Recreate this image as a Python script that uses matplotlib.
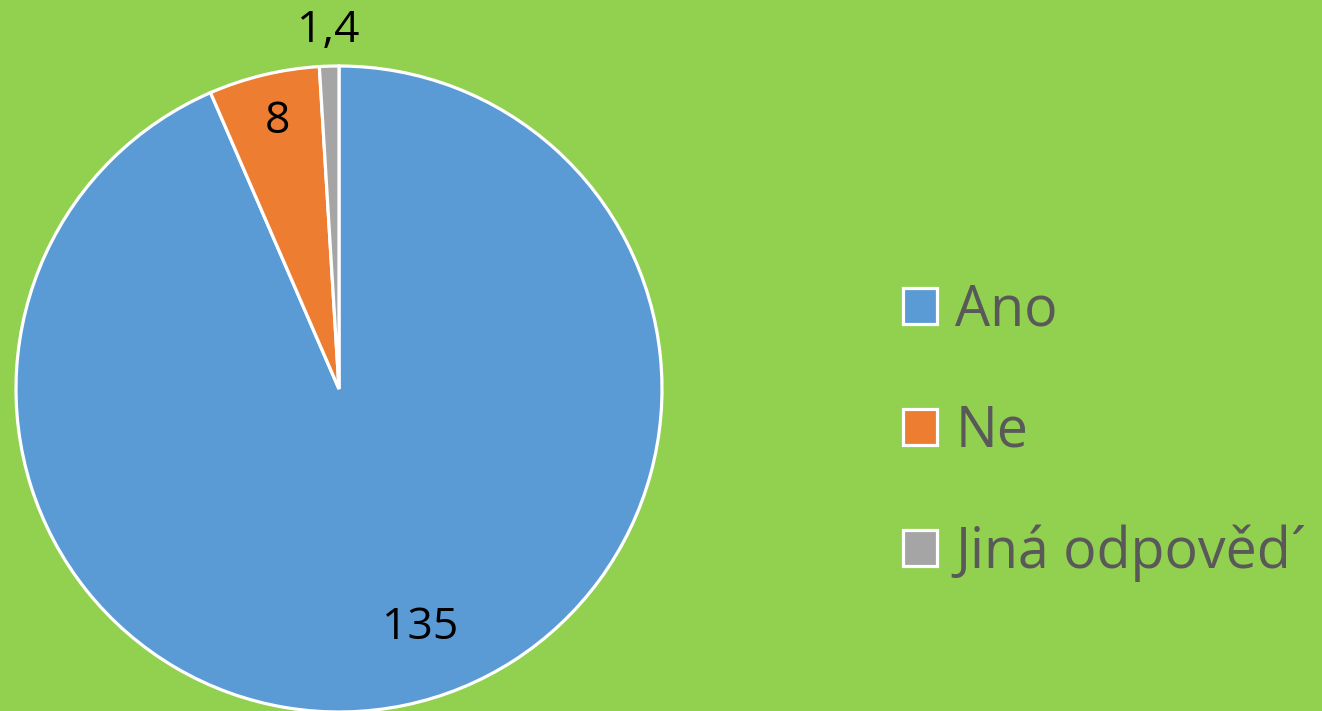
import matplotlib
matplotlib.use("Agg")
import matplotlib.pyplot as plt
from matplotlib.patches import Patch
import numpy as np

categories = ["Ano", "Ne", "Jiná odpověd´"]
values = [135, 8, 1.4]
value_labels = ["135", "8", "1,4"]
colors = ["#5B9BD5", "#ED7D31", "#A5A5A5"]

W, H = 1322, 711
fig = plt.figure(figsize=(W / 100, H / 100), dpi=100)
fig.patch.set_facecolor("#92D050")

cx, cy, r = 339, 389, 323
ax = fig.add_axes([(cx - r) / W, (H - cy - r) / H, 2 * r / W, 2 * r / H])
ax.set_facecolor("none")
wedges, _ = ax.pie(values, colors=colors, startangle=90, counterclock=False,
                   wedgeprops=dict(edgecolor="white", linewidth=2.3), radius=1.0)
ax.set_xlim(-1, 1)
ax.set_ylim(-1, 1)
ax.set_aspect("equal")
ax.axis("off")

# label placement (distance from center, angle offset in degrees)
label_pos = [(0.78, 7.0), (0.85, -0.5), (1.11, 0.0)]
for w, lab, (d, off) in zip(wedges, value_labels, label_pos):
    ang = np.deg2rad((w.theta1 + w.theta2) / 2 + off)
    ax.text(d * np.cos(ang), d * np.sin(ang), lab, ha="center", va="center",
            fontsize=32, family="Open Sans", color="black", clip_on=False)

handles = [Patch(facecolor=c, edgecolor="white", linewidth=2.3) for c in colors]
leg = fig.legend(handles, categories, loc="center left",
                 bbox_to_anchor=(903 / W, (H - 432) / H),
                 frameon=False, handlelength=0.62, handleheight=0.62,
                 handletextpad=0.32, labelspacing=1.15, borderpad=0, borderaxespad=0,
                 prop=dict(family="Open Sans", size=40))
for t in leg.get_texts():
    t.set_color("#595959")

fig.savefig("out.png", dpi=100, facecolor=fig.get_facecolor())
